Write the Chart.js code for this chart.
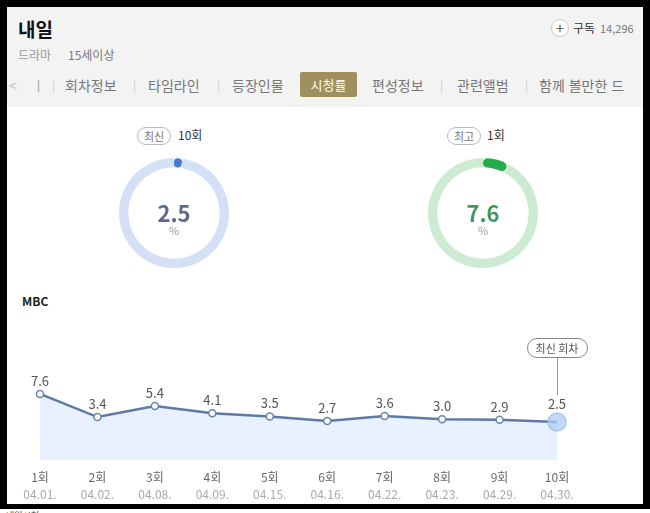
<!DOCTYPE html>
<html lang="ko">
<head>
<meta charset="utf-8">
<script src="https://cdn.jsdelivr.net/npm/chart.js@4.4.1/dist/chart.umd.min.js"></script>
<style>
  body { margin: 0; width: 650px; height: 513px; background: #fff; position: relative; overflow: hidden;
         font-family: "Noto Sans CJK KR", sans-serif; }
  .abs { position: absolute; white-space: nowrap; }
  #frame { position: absolute; left: 0; top: 0; width: 636px; height: 497px; border: 7px solid #000; border-bottom-width: 5px; background: #fff; }
  #head { position: absolute; left: 7px; top: 7px; width: 636px; height: 100px; background: #f3f3f3; }
  .tab { font-size: 14px; color: #777; top: 75px; }
  .sep { font-size: 12px; color: #ccc; top: 76px; }
  .pill { border: 1px solid #bbb; border-radius: 9px; font-size: 11px; color: #777; padding: 0 6px; height: 16px; line-height: 16px; background: #fff; }
  .big { font-size: 22px; font-weight: bold; text-align: center; width: 80px; }
  .pct { font-size: 11px; color: #999; text-align: center; width: 80px; }
</style>
</head>
<body>
<div id="frame"></div>
<div id="head"></div>

<div class="abs" style="left:18px;top:15px;font-size:19px;font-weight:bold;color:#111;">내일</div>
<div class="abs" style="left:18px;top:46px;font-size:12px;color:#999;">드라마</div>
<div class="abs" style="left:68px;top:46px;font-size:12px;color:#777;">15세이상</div>

<div class="abs" style="left:551px;top:19px;width:16px;height:16px;border:1px solid #ccc;border-radius:50%;background:#fff;text-align:center;line-height:16px;font-size:15px;color:#666;">+</div>
<div class="abs" style="left:573px;top:19px;font-size:12px;color:#333;">구독</div>
<div class="abs" style="left:600px;top:20px;font-size:11px;color:#777;">14,296</div>

<div class="abs tab" style="left:9px;color:#bbb;">&lt;</div>
<div class="abs tab" style="left:32px;color:#aaa;">ㅣ</div>
<div class="abs sep" style="left:52px;">|</div>
<div class="abs tab" style="left:65px;">회차정보</div>
<div class="abs sep" style="left:133px;">|</div>
<div class="abs tab" style="left:148px;">타임라인</div>
<div class="abs sep" style="left:217px;">|</div>
<div class="abs tab" style="left:232px;">등장인물</div>
<div class="abs" style="left:300px;top:72px;width:57px;height:25px;background:#9e905f;border-radius:2px;color:#fff;font-size:13px;text-align:center;line-height:25px;">시청률</div>
<div class="abs tab" style="left:372px;">편성정보</div>
<div class="abs sep" style="left:440px;">|</div>
<div class="abs tab" style="left:457px;">관련앨범</div>
<div class="abs sep" style="left:525px;">|</div>
<div class="abs tab" style="left:539px;">함께 볼만한 드</div>

<div class="abs pill" style="left:137px;top:127px;">최신</div>
<div class="abs" style="left:178px;top:126px;font-size:12px;color:#333;" id="latestEp"></div>
<div class="abs pill" style="left:447px;top:127px;">최고</div>
<div class="abs" style="left:487px;top:126px;font-size:12px;color:#333;" id="bestEp"></div>

<canvas id="latestRing" class="abs" width="110" height="110" style="left:119px;top:158px;"></canvas>
<canvas id="bestRing" class="abs" width="110" height="110" style="left:428px;top:158px;"></canvas>
<div class="abs big" style="left:134px;top:196px;color:#5c6b8c;" id="latestVal"></div>
<div class="abs pct" style="left:134px;top:222px;">%</div>
<div class="abs big" style="left:443px;top:196px;color:#3f9a5c;" id="bestVal"></div>
<div class="abs pct" style="left:443px;top:222px;">%</div>

<div class="abs" style="left:22px;top:292px;font-size:12px;font-weight:bold;color:#222;">MBC</div>
<canvas id="lineChart" class="abs" width="634" height="205" style="left:7px;top:300px;"></canvas>

<div class="abs" style="left:6px;top:509px;font-size:9px;color:#444;">내일시청</div>

<script>
const episodes = ["1회", "2회", "3회", "4회", "5회", "6회", "7회", "8회", "9회", "10회"];
const airDates = ["04.01.", "04.02.", "04.08.", "04.09.", "04.15.", "04.16.", "04.22.", "04.23.", "04.29.", "04.30."];
const ratings = [7.6, 3.4, 5.4, 4.1, 3.5, 2.7, 3.6, 3.0, 2.9, 2.5];

Chart.defaults.font.family = '"Noto Sans CJK KR", sans-serif';

const lastIdx = ratings.length - 1;
const latest = ratings[lastIdx];
const best = Math.max(...ratings);
const bestIdx = ratings.indexOf(best);

document.getElementById("latestEp").textContent = episodes[lastIdx];
document.getElementById("bestEp").textContent = episodes[bestIdx];
document.getElementById("latestVal").textContent = latest.toFixed(1);
document.getElementById("bestVal").textContent = best.toFixed(1);

// ring gauges (percent of 100)
function ring(id, value, color, track) {
  new Chart(document.getElementById(id), {
    type: "doughnut",
    data: {
      datasets: [{
        data: [value, 100 - value],
        backgroundColor: [color, track],
        borderWidth: 0,
        borderRadius: [5, 0],
        hoverOffset: 0,
      }],
    },
    options: {
      responsive: false,
      animation: false,
      cutout: "83%",
      events: [],
      plugins: { legend: { display: false }, tooltip: { enabled: false } },
    },
  });
}
ring("latestRing", latest, "#4a7bd2", "#d4e0f6");
ring("bestRing", best, "#22ad48", "#cdebd3");

// value labels + latest callout
const labelPlugin = {
  id: "valueLabels",
  afterDatasetsDraw(chart) {
    const ctx = chart.ctx;
    const pts = chart.getDatasetMeta(0).data;
    ctx.save();
    ctx.font = '13px "Noto Sans CJK KR", sans-serif';
    ctx.fillStyle = "#555";
    ctx.textAlign = "center";
    ctx.textBaseline = "middle";
    pts.forEach((p, i) => {
      const off = i === lastIdx ? 18 : 13;
      ctx.fillText(ratings[i].toFixed(1), p.x, p.y - off);
    });
    // callout
    const p = pts[lastIdx];
    ctx.strokeStyle = "#999";
    ctx.lineWidth = 1;
    ctx.beginPath();
    ctx.moveTo(p.x + 0.5, 57);
    ctx.lineTo(p.x + 0.5, p.y - 27);
    ctx.stroke();
    const w = 60, h = 19, x0 = p.x - w / 2, y0 = 38;
    ctx.beginPath();
    ctx.roundRect(x0 + 0.5, y0 + 0.5, w, h, 9.5);
    ctx.fillStyle = "#fff";
    ctx.fill();
    ctx.strokeStyle = "#888";
    ctx.stroke();
    ctx.fillStyle = "#555";
    ctx.font = '11px "Noto Sans CJK KR", sans-serif';
    ctx.fillText("최신 회차", p.x, y0 + h / 2 + 1);
    ctx.restore();
  },
};

new Chart(document.getElementById("lineChart"), {
  type: "line",
  data: {
    labels: episodes,
    datasets: [{
      data: ratings,
      borderColor: "#5d7aa6",
      borderWidth: 2.5,
      fill: "start",
      backgroundColor: "rgba(226,237,252,0.8)",
      tension: 0,
      pointRadius: (c) => (c.dataIndex === lastIdx ? 9 : 3.5),
      pointBackgroundColor: (c) => (c.dataIndex === lastIdx ? "rgba(175,203,243,0.75)" : "#fff"),
      pointBorderColor: (c) => (c.dataIndex === lastIdx ? "rgba(160,190,235,0.8)" : "#6a84b0"),
      pointBorderWidth: 1.5,
    }],
  },
  options: {
    responsive: false,
    animation: false,
    events: [],
    layout: { padding: { left: 33, right: 84, top: 40, bottom: 0 } },
    plugins: { legend: { display: false }, tooltip: { enabled: false } },
    scales: {
      x: {
        offset: false,
        grid: { display: false, drawTicks: false },
        border: { display: false },
        ticks: { color: "#666", font: { size: 12 }, padding: 10, maxRotation: 0, autoSkip: false },
        afterFit: (s) => { s.height = 27; },
      },
      x2: {
        type: "category",
        labels: airDates,
        position: "bottom",
        weight: 1,
        offset: false,
        grid: { display: false, drawTicks: false },
        border: { display: false },
        ticks: { color: "#aaa", font: { size: 12 }, padding: 0, maxRotation: 0, autoSkip: false },
        afterFit: (s) => { s.height = 18; },
      },
      y: { display: false, min: -4.4, max: 17.4 },
    },
  },
  plugins: [labelPlugin],
});
</script>
</body>
</html>
